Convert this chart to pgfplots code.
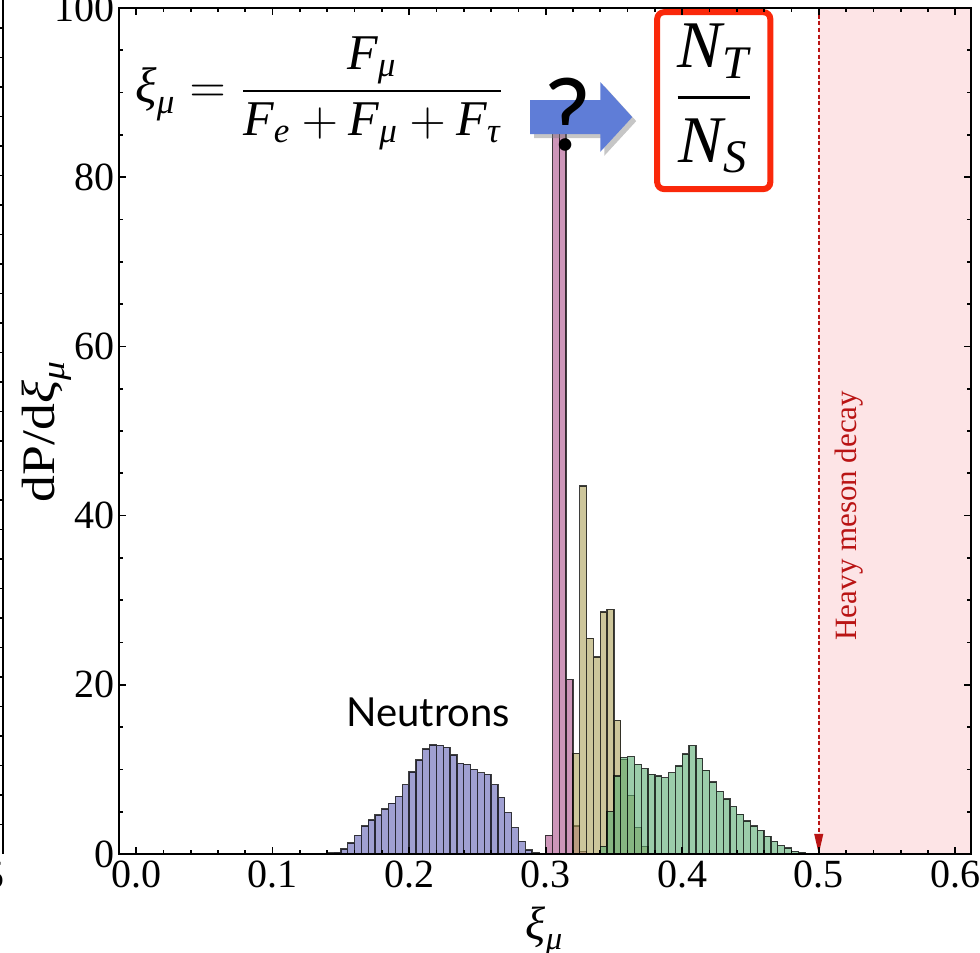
\documentclass[border=0pt]{standalone}
\usepackage{fontspec}
\usepackage{amsmath}
\usepackage{graphicx}
\usepackage{pgfplots}
\pgfplotsset{compat=1.18}
\usetikzlibrary{arrows.meta,shadows}
\setmainfont{Liberation Serif}
\newfontfamily\lato{Lato}
\newcommand\ti[1]{\text{\itshape #1}}

\definecolor{cblue}{RGB}{97,97,180}
\definecolor{cpink}{RGB}{172,80,138}
\definecolor{cyell}{RGB}{172,160,88}
\definecolor{cgreen}{RGB}{88,172,113}
\definecolor{bgpink}{RGB}{253,228,230}
\definecolor{dred}{RGB}{185,20,20}
\definecolor{boxred}{RGB}{250,40,10}
\definecolor{arrowblue}{RGB}{95,125,215}

\pgfplotsset{hist/.style={ybar interval, fill opacity=0.6, draw=black, draw opacity=0.75, line width=0.4pt}}

\begin{document}
\begin{tikzpicture}
\begin{axis}[
    name=ax,
    scale only axis,
    width=255.6pt, height=253.8pt,
    xmin=-0.0125, xmax=0.6115, ymin=0, ymax=100,
    clip=false,
    axis on top,
    axis line style={line width=0.6pt},
    tick align=inside,
    xtick={0,0.1,0.2,0.3,0.4,0.5,0.6},
    ytick={0,20,40,60,80,100},
    minor x tick num=4, minor y tick num=3,
    major tick length=2.2pt, minor tick length=1.3pt,
    tick style={black, line width=0.5pt},
    /pgf/number format/assume math mode=true,
    tick label style={font=\fontsize{12}{12}\selectfont, inner sep=1pt},
    xticklabel style={/pgf/number format/fixed, /pgf/number format/fixed zerofill, /pgf/number format/precision=1, yshift=-1pt},
    xlabel={$\ti{ξ}_{\ti{μ}}$},
    xlabel style={at={(rel axis cs:0.5,-0.092)}, anchor=center, font=\fontsize{14}{14}\selectfont},
    ylabel={\scalebox{1.15}[1]{dP/d$\ti{ξ}_{\ti{μ}}$}},
    ylabel style={at={(rel axis cs:-0.085,0.5)}, anchor=center, font=\fontsize{14}{14}\selectfont},
]
% heavy meson region
\fill[bgpink] (axis cs:0.5,0) rectangle (axis cs:0.6115,100);

% neutrons
\addplot[hist, fill=cblue] coordinates {
(0.140,0.1) (0.145,0.2) (0.150,0.6) (0.155,1.3) (0.160,2.2) (0.165,3.3)
(0.170,4.0) (0.175,4.6) (0.180,5.3) (0.185,6.0) (0.190,6.8) (0.195,8.2)
(0.200,9.7) (0.205,11.1) (0.210,12.4) (0.215,12.9) (0.220,12.85) (0.225,12.6)
(0.230,11.7) (0.235,10.7) (0.240,10.6) (0.245,10.0) (0.250,9.6) (0.255,9.4)
(0.260,8.2) (0.265,6.7) (0.270,4.9) (0.275,3.1) (0.280,1.5) (0.285,0.45)
(0.290,0.12) (0.295,0)
};
% pink
\addplot[hist, fill=cpink] coordinates {
(0.300,2.2) (0.305,88) (0.310,87.5) (0.315,20.6) (0.320,3.3) (0.325,0.3) (0.330,0)
};
% yellow
\addplot[hist, fill=cyell] coordinates {
(0.320,11.9) (0.325,43.5) (0.330,25.5) (0.335,23.3) (0.340,28.6) (0.345,28.9)
(0.350,15.8) (0.355,11.2) (0.360,6.9) (0.365,3.1) (0.370,0.9) (0.375,0)
};
% green
\addplot[hist, fill=cgreen] coordinates {
(0.340,0.9) (0.345,5.0) (0.350,9.2) (0.355,11.4) (0.360,11.5) (0.365,10.6)
(0.370,10.1) (0.375,9.4) (0.380,9.2) (0.385,9.0) (0.390,9.6) (0.395,10.4)
(0.400,11.8) (0.405,12.8) (0.410,11.3) (0.415,9.9) (0.420,8.5) (0.425,7.4)
(0.430,6.5) (0.435,5.6) (0.440,4.7) (0.445,3.9) (0.450,3.3) (0.455,2.8)
(0.460,2.1) (0.465,1.5) (0.470,1.0) (0.475,0.7) (0.480,0.3) (0.485,0.2) (0.490,0)
};

% heavy meson marker
\draw[dred, line width=0.5pt, dash pattern=on 1.2pt off 0.8pt,
      -{Triangle[length=6pt,width=2.6pt]}] (axis cs:0.5,100) -- (axis cs:0.5,0);
\node[rotate=90, text=dred, font=\fontsize{9.3}{10}\selectfont] at (axis cs:0.522,40) {Heavy meson decay};

\node[font=\lato\fontsize{12}{12}\selectfont] at (axis cs:0.214,16.7) {Neutrons};

% formula
\node[anchor=west, inner sep=0pt, font=\fontsize{15}{18}\selectfont] at (axis cs:-0.001,89.9)
  {$\ti{ξ}_{\ti{μ}} = \dfrac{\ti{F}_{\ti{μ}}}{\ti{F}_{\ti{e}} + \ti{F}_{\ti{μ}} + \ti{F}_{\ti{τ}}}$};

% arrow with question mark
\fill[arrowblue, drop shadow={shadow xshift=1.2pt, shadow yshift=-1.2pt, opacity=0.45}]
  (axis cs:0.2886,89.1) -- (axis cs:0.340,89.1) -- (axis cs:0.340,91.25)
  -- (axis cs:0.3634,87.1) -- (axis cs:0.340,83.0) -- (axis cs:0.340,85.1)
  -- (axis cs:0.2886,85.1) -- cycle;
\node[font=\lato\fontsize{30}{30}\selectfont] at (axis cs:0.3165,87.35) {?};

% N_T / N_S box
\draw[boxred, line width=1.8pt, rounded corners=2pt] (axis cs:0.3817,78.6) rectangle (axis cs:0.4645,99.5);
\node[font=\fontsize{20}{24}\selectfont] at (axis cs:0.423,89.3)
  {$\dfrac{\ti{N}_{\ti{T}}}{\ti{N}_{\ti{S}}}$};
\end{axis}

% edge of the neighbouring panel
\draw[line width=0.6pt] ([xshift=-34.8pt]ax.south west) -- ([xshift=-34.8pt,yshift=2.4pt]ax.north west);
\foreach \k in {1,...,28}
  \draw[line width=0.4pt] ([xshift=-34.8pt,yshift=\k*8.85pt]ax.south west) -- ++(-0.9pt,0);
\node[anchor=east, inner sep=0pt, font=\fontsize{12}{12}\selectfont] at ([xshift=-34.2pt,yshift=-6.6pt]ax.south west) {5};

\pgfresetboundingbox
\useasboundingbox ([xshift=-35.7pt,yshift=-29.7pt]ax.south west) rectangle ([xshift=2.7pt,yshift=2.4pt]ax.north east);
\end{tikzpicture}
\end{document}
